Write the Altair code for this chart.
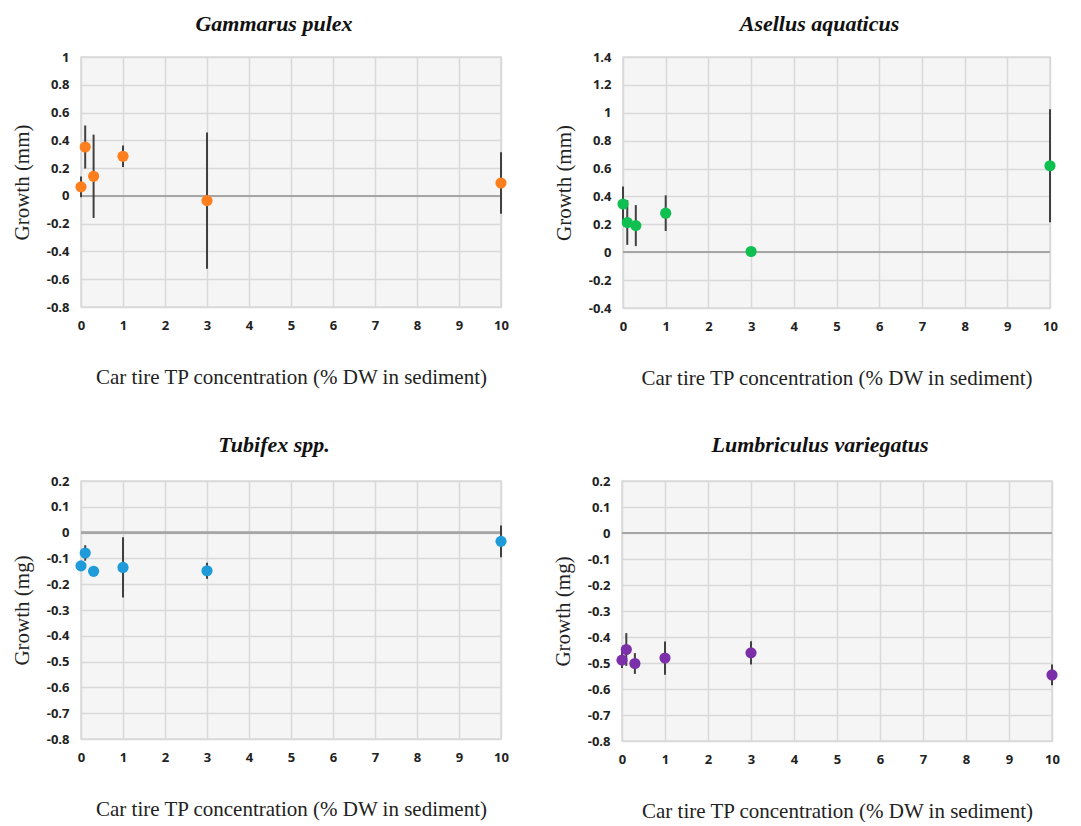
import altair as alt
import pandas as pd

conc = [0, 0.1, 0.3, 1, 3, 10]

gammarus_mean = [0.065, 0.352, 0.141, 0.285, -0.034, 0.093]
gammarus_err = [0.075, 0.155, 0.300, 0.077, 0.490, 0.222]

asellus_mean = [0.346, 0.213, 0.191, 0.280, 0.005, 0.620]
asellus_err = [0.125, 0.160, 0.147, 0.128, 0.000, 0.405]

tubifex_mean = [-0.129, -0.079, -0.150, -0.135, -0.148, -0.034]
tubifex_err = [0.015, 0.030, 0.010, 0.117, 0.031, 0.062]

lumbri_mean = [-0.489, -0.448, -0.502, -0.481, -0.461, -0.546]
lumbri_err = [0.030, 0.063, 0.040, 0.064, 0.045, 0.040]

x_ticks = [0, 1, 2, 3, 4, 5, 6, 7, 8, 9, 10]
y_ticks_gammarus = [-0.8, -0.6, -0.4, -0.2, 0, 0.2, 0.4, 0.6, 0.8, 1]
y_ticks_asellus = [-0.4, -0.2, 0, 0.2, 0.4, 0.6, 0.8, 1, 1.2, 1.4]
y_ticks_worms = [-0.8, -0.7, -0.6, -0.5, -0.4, -0.3, -0.2, -0.1, 0, 0.1, 0.2]

XTITLE = "Car tire TP concentration (% DW in sediment)"
SERIF = "Liberation Serif"
SANS = "Open Sans"


def panel(title, mean, err, color, ytitle, yticks, w, h, title_offset):
    df = pd.DataFrame({
        "conc": conc,
        "mean": mean,
        "lo": [m - e for m, e in zip(mean, err)],
        "hi": [m + e for m, e in zip(mean, err)],
    })
    yscale = alt.Scale(domain=[yticks[0], yticks[-1]], nice=False, zero=False)
    yaxis = alt.Axis(values=yticks, title=ytitle, labelExpr="toString(datum.value)")
    x = alt.X(
        "conc:Q",
        scale=alt.Scale(domain=[0, 10], nice=False, zero=False),
        axis=alt.Axis(values=x_ticks, title=XTITLE, labelExpr="toString(datum.value)"),
    )
    base = alt.Chart(df)
    zero = base.mark_rule(color="#a6a6a6", strokeWidth=1.6).encode(
        y=alt.Y(datum=0, scale=yscale, axis=yaxis)
    )
    bars = base.mark_rule(color="#404040", strokeWidth=2).encode(
        x=x, y=alt.Y("lo:Q", scale=yscale, axis=yaxis), y2="hi:Q"
    )
    pts = base.mark_circle(size=125, opacity=1, color=color).encode(
        x=x, y=alt.Y("mean:Q", scale=yscale, axis=yaxis)
    )
    return alt.layer(zero, bars, pts).properties(
        width=w,
        height=h,
        title=alt.TitleParams(
            title,
            font=SERIF,
            fontSize=22,
            fontStyle="italic",
            fontWeight="bold",
            color="#111111",
            anchor="middle",
            dx=-17,
            offset=title_offset,
        ),
    )


p1 = panel("Gammarus pulex", gammarus_mean, gammarus_err, "#ff7f1e", "Growth (mm)", y_ticks_gammarus, 420, 250, 15)
p2 = panel("Asellus aquaticus", asellus_mean, asellus_err, "#0fbf50", "Growth (mm)", y_ticks_asellus, 427, 251, 15)
p3 = panel("Tubifex spp.", tubifex_mean, tubifex_err, "#1e9bd8", "Growth (mg)", y_ticks_worms, 420, 258, 18)
p4 = panel("Lumbriculus variegatus", lumbri_mean, lumbri_err, "#7b2fa8", "Growth (mg)", y_ticks_worms, 430, 260, 18)

row1 = alt.hconcat(p1, p2, spacing=42)
row2 = alt.hconcat(p3, p4, spacing=41)

chart = alt.vconcat(row1, row2, spacing=44).properties(
    padding={"left": 2, "top": 4, "right": 0, "bottom": 0},
    background="white",
).configure_view(
    fill="#f5f5f5", stroke="#d9d9d9", strokeWidth=1.5
).configure_axis(
    grid=True,
    gridColor="#d9d9d9",
    gridWidth=1.5,
    domain=False,
    ticks=False,
    labelFlush=False,
    labelOverlap=False,
    labelBound=False,
    labelFont=SANS,
    labelFontSize=13,
    labelFontWeight="bold",
    labelColor="#222222",
    titleFont=SERIF,
    titleFontSize=21,
    titleFontWeight="normal",
    titleColor="#222222",
).configure_axisY(
    labelPadding=12,
    minExtent=40,
    maxExtent=40,
    titlePadding=9,
).configure_axisX(
    labelPadding=12,
    titlePadding=34,
)

chart.save("out.html", embed_options={"renderer": "svg", "actions": False})
